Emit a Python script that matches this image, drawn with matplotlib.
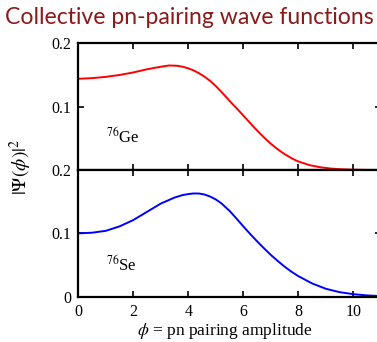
import numpy as np
import matplotlib
matplotlib.use("Agg")
import matplotlib.pyplot as plt

plt.rcParams["mathtext.fontset"] = "stix"
plt.rcParams["font.family"] = ["Liberation Serif", "DejaVu Serif"]

# pairing amplitude grid and |Psi|^2 for the two nuclei
phi_ge = [0, 0.5, 1, 1.5, 2, 2.5, 3, 3.3, 3.6, 3.8, 4, 4.2, 4.4, 4.6, 4.8,
          5.0, 5.2, 5.4, 5.6, 5.8, 6, 6.2, 6.4, 6.6, 6.8, 7.0, 7.2, 7.4,
          7.6, 7.8, 8, 8.4, 8.8, 9.2, 9.6, 10, 10.5, 11]
psi_ge = [0.144, 0.145, 0.147, 0.150, 0.154, 0.159, 0.163, 0.165, 0.1645,
          0.163, 0.1605, 0.157, 0.1525, 0.147, 0.1405, 0.1325, 0.1235,
          0.114, 0.1045, 0.0955, 0.086, 0.0765, 0.0670, 0.058, 0.0495,
          0.0415, 0.0345, 0.028, 0.0225, 0.0175, 0.0135, 0.0078, 0.0043,
          0.0022, 0.0011, 0.0005, 0.0001, 0.0]

phi_se = [0, 0.5, 1, 1.5, 2, 2.5, 3, 3.5, 3.8, 4, 4.2, 4.4, 4.6, 4.8, 5.0,
          5.2, 5.5, 5.75, 6, 6.25, 6.5, 6.75, 7, 7.25, 7.5, 7.75, 8, 8.5,
          9, 9.5, 10, 10.5, 11]
psi_se = [0.100, 0.101, 0.104, 0.111, 0.121, 0.134, 0.147, 0.1565, 0.1605,
          0.162, 0.163, 0.1628, 0.1612, 0.158, 0.1535, 0.1475, 0.1355,
          0.1235, 0.111, 0.099, 0.0875, 0.0765, 0.0660, 0.0565, 0.0475,
          0.0395, 0.0325, 0.0210, 0.0125, 0.0072, 0.0040, 0.0020, 0.0010]

xticks = [0, 2, 4, 6, 8, 10]

W, H = 377, 342
fig = plt.figure(figsize=(W / 100, H / 100), dpi=100)

x0, xr = 78.3, 302.5
ax_top = fig.add_axes([x0 / W, (H - 170) / H, xr / W, 126.7 / H])
ax_bot = fig.add_axes([x0 / W, (H - 296.7) / H, xr / W, 126.7 / H])

for ax in (ax_top, ax_bot):
    ax.set_xlim(0, 11)
    ax.set_ylim(0, 0.2)
    ax.set_xticks(xticks)
    ax.tick_params(direction="in", length=4, width=1.2, top=True, right=True,
                   labelsize=11.5, pad=5)
    for s in ax.spines.values():
        s.set_linewidth(1.6)

ax_top.plot(phi_ge, psi_ge, color="#ff0000", lw=1.4)
ax_bot.plot(phi_se, psi_se, color="#0000ff", lw=1.4)

ax_top.set_yticks([0.1, 0.2])
ax_top.set_yticklabels(["0.1", "0.2"])
ax_top.set_xticklabels([])
ax_bot.set_yticks([0, 0.1, 0.2])
ax_bot.set_yticklabels(["0", "0.1", "0.2"])
ax_bot.set_xticklabels([str(t) for t in xticks])

ax_top.text(1.0, 0.052, r"$^{76}$Ge", fontsize=12, va="center")
ax_bot.text(1.0, 0.050, r"$^{76}$Se", fontsize=12, va="center")

fig.text(21 / W, 1 - 167 / H, r"$|\Psi(\phi)|^2$", rotation=90,
         ha="center", va="center", fontsize=14)
fig.text(225 / W, 1 - 331 / H, r"$\phi$ = pn pairing amplitude",
         ha="center", va="center", fontsize=12.5)

fig.text(189 / W, 1 - 18 / H, "Collective pn-pairing wave functions",
         ha="center", va="center", fontsize=16.6, color="#8b1a1a",
         family=["Lato", "DejaVu Sans"])

fig.savefig("out.png", dpi=100)
